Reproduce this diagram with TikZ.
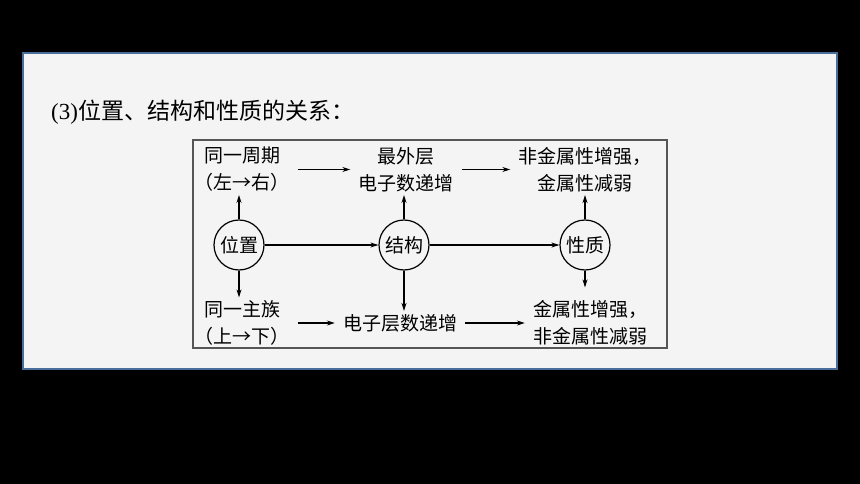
\documentclass[tikz,border=0pt]{standalone}
\usepackage{fontspec}
\setmainfont{Liberation Serif}
\newfontfamily\cjk{Noto Sans CJK SC}
\usepackage{tikz}
\usetikzlibrary{arrows.meta}
\definecolor{panelfill}{HTML}{F4F4F4}
\definecolor{panelline}{HTML}{4A6E9C}
\definecolor{framegray}{HTML}{555555}
\tikzstyle{txt} = [font=\cjk\fontsize{19pt}{27pt}\selectfont, align=center, inner xsep=8pt, inner ysep=3pt, text=black]
\tikzstyle{hub} = [circle, draw=black, line width=1.2pt, minimum size=50pt, inner sep=0pt, font=\cjk\fontsize{19pt}{27pt}\selectfont]
\tikzstyle{arrow} = [line width=1.1pt, -{Stealth[length=8pt,width=5pt]}]

\begin{document}
\begin{tikzpicture}[x=1pt, y=-1pt]
    % Background and panel
    \fill [black] (0,0) rectangle (860,484);
    \useasboundingbox (0,0) rectangle (860,484);
    \draw [panelline, fill=panelfill, line width=2pt] (23,53) rectangle (837,369);
    \draw [framegray, line width=1.2pt] (193,140) rectangle (667,348);

    % Title
    \node (title) at (51,112) [anchor=west, inner sep=0pt, font=\fontsize{23pt}{27pt}\selectfont] {(3){\cjk 位置、结构和性质的关系：}};

    % Hubs
    \node (pos) at (239,245) [hub] {位置};
    \node (str) at (404,245) [hub] {结构};
    \node (prop) at (585,245) [hub] {性质};

    % Top row
    \node (period) at (242,169.5) [txt] {同一周期\\（左→右）};
    \node (outer) at (406,169.5) [txt] {最外层\\电子数递增};
    \node (nonmet) at (585,169.5) [txt] {非金属性增强，\\金属性减弱};

    % Bottom row
    \node (group) at (242,323) [txt] {同一主族\\（上→下）};
    \node (shells) at (400,323) [txt] {电子层数递增};
    \node (metal) at (590,323) [txt] {金属性增强，\\非金属性减弱};

    % Main chain
    \draw [arrow] (pos) -- (str);
    \draw [arrow] (str) -- (prop);

    % Up and down
    \draw [arrow] (pos.north) -- (pos.north |- period.south);
    \draw [arrow] (str.north) -- (str.north |- outer.south);
    \draw [arrow] (prop.north) -- (prop.north |- nonmet.south);
    \draw [arrow] (pos.south) -- (pos.south |- group.north);
    \draw [arrow] (str.south) -- (str.south |- shells.north);
    \draw [arrow, shorten >=10pt] (prop.south) -- (prop.south |- metal.north);

    % Rows
    \draw [arrow] (period.east) -- (outer.west);
    \draw [arrow] (outer.east) -- (nonmet.west);
    \draw [arrow] (group.east) -- (shells.west);
    \draw [arrow] (shells.east) -- (metal.west);
\end{tikzpicture}
\end{document}
